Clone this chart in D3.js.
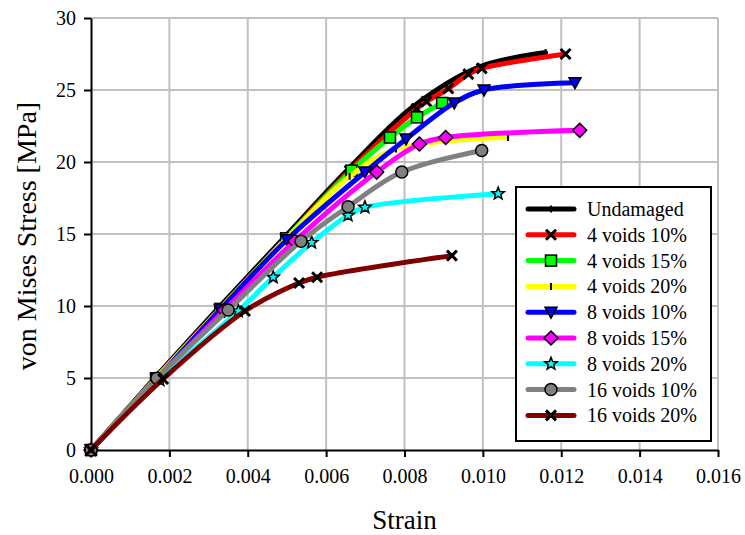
<!DOCTYPE html>
<html>
<head>
<meta charset="utf-8">
<script src="https://cdn.jsdelivr.net/npm/d3@7"></script>
<style>
  html, body { margin: 0; padding: 0; background: #fff; }
  svg, svg text { font-family: "Times New Roman", "Liberation Serif", "DejaVu Serif", Times, serif; }
</style>
</head>
<body>
<svg id="chart" width="745" height="535"></svg>
<script>
// Strain / von Mises stress curves for each damage case
const seriesNames = [
  "Undamaged", "4 voids 10%", "4 voids 15%", "4 voids 20%",
  "8 voids 10%", "8 voids 15%", "8 voids 20%", "16 voids 10%", "16 voids 20%"
];
const seriesColors = ["#000000", "#ff0000", "#00ff00", "#ffff00", "#0000ff", "#ff00ff", "#00ffff", "#808080", "#800000"];
const seriesMarkers = ["dash", "x", "square", "dash", "triangleDown", "diamond", "star", "circle", "x"];

const undamaged   = [[0,0],[0.00163,5.0],[0.00325,9.85],[0.00493,14.75],[0.0066,19.6],[0.0082,23.8],[0.0099,26.6],[0.0116,27.6]];
const voids4_10   = [[0,0],[0.00165,4.98],[0.00328,9.8],[0.00497,14.7],[0.0066,19.4],[0.00831,23.7],[0.00856,24.2],[0.00912,25.1],[0.00963,26.1],[0.00997,26.5],[0.01211,27.5]];
const voids4_15   = [[0,0],[0.00166,4.98],[0.0033,9.8],[0.00498,14.7],[0.00665,19.4],[0.00763,21.7],[0.00832,23.1],[0.00896,24.1]];
const voids4_20   = [[0,0],[0.00167,5.0],[0.0033,9.8],[0.005,14.7],[0.0066,19.0],[0.00778,20.9],[0.01064,21.7]];
const voids8_10   = [[0,0],[0.00168,4.95],[0.0033,9.75],[0.005,14.6],[0.00699,19.3],[0.00804,21.6],[0.00927,24.1],[0.01003,25.0],[0.01235,25.5]];
const voids8_15   = [[0,0],[0.0017,4.95],[0.0034,9.7],[0.0052,14.5],[0.00729,19.3],[0.00838,21.25],[0.00905,21.7],[0.01247,22.2]];
const voids8_20   = [[0,0],[0.00176,4.86],[0.00376,9.65],[0.00465,12.0],[0.00563,14.4],[0.00656,16.3],[0.00699,16.85],[0.01039,17.8]];
const voids16_10  = [[0,0],[0.00168,4.98],[0.0035,9.72],[0.00536,14.5],[0.00656,16.9],[0.00793,19.3],[0.00997,20.8]];
const voids16_20  = [[0,0],[0.00184,4.93],[0.00393,9.65],[0.00531,11.6],[0.00577,12.0],[0.00921,13.5]];

const seriesValues = [undamaged, voids4_10, voids4_15, voids4_20, voids8_10, voids8_15, voids8_20, voids16_10, voids16_20];

const xTicks = [0, 0.002, 0.004, 0.006, 0.008, 0.010, 0.012, 0.014, 0.016];
const yTicks = [0, 5, 10, 15, 20, 25, 30];

const FONT = '"Times New Roman", "Liberation Serif", "DejaVu Serif", Times, serif';
const margin = { left: 91, top: 18, right: 27, bottom: 85 };
const W = 745, H = 535;
const svg = d3.select("#chart");

const x = d3.scaleLinear().domain([0, 0.016]).range([margin.left, W - margin.right]);
const y = d3.scaleLinear().domain([0, 30]).range([H - margin.bottom, margin.top]);

// grid
const grid = svg.append("g").attr("stroke", "#c0c0c0").attr("stroke-width", 2);
grid.selectAll("line.v").data(xTicks.slice(1)).join("line")
  .attr("x1", d => x(d)).attr("x2", d => x(d))
  .attr("y1", y(0)).attr("y2", y(30));
grid.selectAll("line.h").data(yTicks.slice(1)).join("line")
  .attr("x1", x(0)).attr("x2", x(0.016))
  .attr("y1", d => y(d)).attr("y2", d => y(d));

// axes
const xAxis = d3.axisBottom(x).tickValues(xTicks).tickFormat(d3.format(".3f")).tickSizeInner(7).tickSizeOuter(0).tickPadding(12);
const yAxis = d3.axisLeft(y).tickValues(yTicks).tickFormat(d3.format("d")).tickSizeInner(7).tickSizeOuter(0).tickPadding(8);

const gx = svg.append("g").attr("transform", `translate(0,${y(0)})`).call(xAxis);
const gy = svg.append("g").attr("transform", `translate(${x(0)},0)`).call(yAxis);
[gx, gy].forEach(g => {
  g.attr("font-family", FONT).attr("font-size", 20);
  g.select(".domain").attr("stroke", "#000").attr("stroke-width", 2);
  g.selectAll(".tick line").attr("stroke", "#000").attr("stroke-width", 2);
  g.selectAll(".tick text").attr("fill", "#000").style("font-family", FONT).style("font-size", "20px");
});

// axis titles
svg.append("text").attr("x", (x(0) + x(0.016)) / 2).attr("y", 529)
  .attr("text-anchor", "middle").style("font-family", FONT).style("font-size", "27px").text("Strain");
svg.append("text").attr("transform", `translate(36,${(y(0) + y(30)) / 2 + 2}) rotate(-90)`)
  .attr("text-anchor", "middle").style("font-family", FONT).style("font-size", "28px").text("von Mises Stress [MPa]");

// marker drawing
function drawMarker(g, type, color, cx, cy) {
  const m = g.append("g").attr("transform", `translate(${cx},${cy})`);
  switch (type) {
    case "x":
      m.append("path").attr("d", "M-5,-5L5,5M-5,5L5,-5").attr("stroke", "#000").attr("stroke-width", 3).attr("fill", "none");
      break;
    case "square":
      m.append("rect").attr("x", -5.5).attr("y", -5.5).attr("width", 11).attr("height", 11)
        .attr("fill", color).attr("stroke", "#000").attr("stroke-width", 1.5);
      break;
    case "triangleDown":
      m.append("path").attr("d", "M-6,-5L6,-5L0,6Z").attr("fill", color).attr("stroke", "#000").attr("stroke-width", 1.5);
      break;
    case "diamond":
      m.append("path").attr("d", "M0,-7L7,0L0,7L-7,0Z").attr("fill", color).attr("stroke", "#000").attr("stroke-width", 1.5);
      break;
    case "circle":
      m.append("circle").attr("r", 6).attr("fill", color).attr("stroke", "#000").attr("stroke-width", 1.5);
      break;
    case "star": {
      const pts = d3.range(10).map(i => {
        const r = i % 2 === 0 ? 6.5 : 2.8;
        const a = -Math.PI / 2 + i * Math.PI / 5;
        return [r * Math.cos(a), r * Math.sin(a)];
      });
      m.append("path").attr("d", "M" + pts.join("L") + "Z").attr("fill", color).attr("stroke", "#000").attr("stroke-width", 1.5);
      break;
    }
    case "dash":
      m.append("line").attr("x1", 0).attr("x2", 0).attr("y1", -3.5).attr("y2", 3.5).attr("stroke", "#000").attr("stroke-width", 2);
      break;
  }
}

const line = d3.line().x(d => x(d[0])).y(d => y(d[1])).curve(d3.curveCatmullRom.alpha(0.5));

const plot = svg.append("g");
seriesValues.forEach((vals, i) => {
  const g = plot.append("g");
  g.append("path").datum(vals).attr("d", line)
    .attr("fill", "none").attr("stroke", seriesColors[i]).attr("stroke-width", 5)
    .attr("stroke-linejoin", "round").attr("stroke-linecap", "round");
  vals.forEach(d => drawMarker(g, seriesMarkers[i], seriesColors[i], x(d[0]), y(d[1])));
});

// legend
const lg = svg.append("g");
lg.append("rect").attr("x", 516).attr("y", 187).attr("width", 195).attr("height", 254)
  .attr("fill", "#fff").attr("stroke", "#000").attr("stroke-width", 2);
seriesNames.forEach((name, i) => {
  const ly = 209 + i * 25.8;
  const row = lg.append("g");
  row.append("line").attr("x1", 528).attr("x2", 574).attr("y1", ly).attr("y2", ly)
    .attr("stroke", seriesColors[i]).attr("stroke-width", 5).attr("stroke-linecap", "round");
  drawMarker(row, seriesMarkers[i], seriesColors[i], 551, ly);
  row.append("text").attr("x", 587).attr("y", ly + 7).style("font-family", FONT).style("font-size", "20px")
    .attr("fill", "#000").text(name);
});
</script>
</body>
</html>
